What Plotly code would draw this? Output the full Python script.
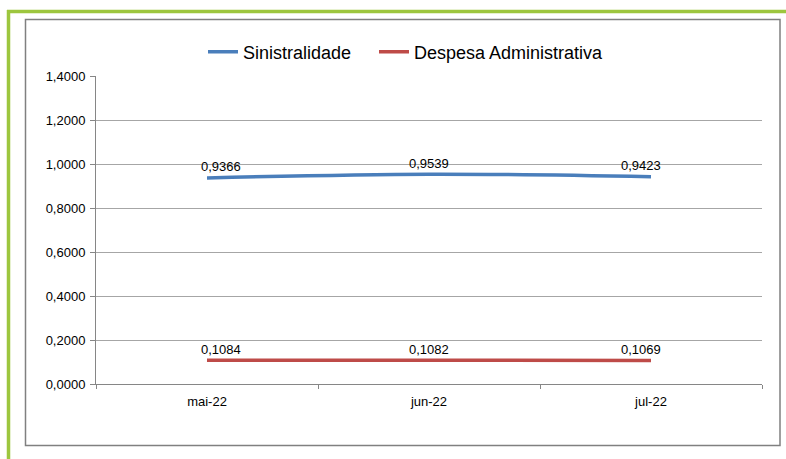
import plotly.graph_objects as go

categories = ["mai-22", "jun-22", "jul-22"]
sinistralidade = [0.9366, 0.9539, 0.9423]
despesa_adm = [0.1084, 0.1082, 0.1069]
y_ticks = [0.0, 0.2, 0.4, 0.6, 0.8, 1.0, 1.2, 1.4]

def fmt(v):
    return f"{v:.4f}".replace(".", ",")

W, H = 786, 459
L, R, T, B = 96, 762, 76, 384

def px(x):
    return (x - L) / (R - L)

def py(y):
    return (B - y) / (B - T)

font = "Liberation Sans, Arial, sans-serif"

fig = go.Figure()
fig.add_trace(go.Scatter(
    x=categories, y=sinistralidade, name="Sinistralidade",
    mode="lines",
    line=dict(color="#4A7EBB", width=3.5, shape="spline"),
    legend="legend",
))
fig.add_trace(go.Scatter(
    x=categories, y=despesa_adm, name="Despesa Administrativa",
    mode="lines",
    line=dict(color="#BE4B48", width=3.5, shape="spline"),
    legend="legend2",
))

# data labels (Excel nudges the end labels inward)
label_xshift = [14, 0, -10]
annotations = []
for series in (sinistralidade, despesa_adm):
    for i, (c, v) in enumerate(zip(categories, series)):
        annotations.append(dict(x=c, y=v, text=fmt(v), showarrow=False,
                                xshift=label_xshift[i], yshift=11, yanchor="middle",
                                font=dict(size=13, family=font, color="#000000")))

shapes = [
    # green frame (left + top)
    dict(type="line", xref="paper", yref="paper", x0=px(8.5), x1=px(8.5), y0=py(10), y1=py(470),
         line=dict(color="#9DC63E", width=3.5)),
    dict(type="line", xref="paper", yref="paper", x0=px(7), x1=px(790), y0=py(11.5), y1=py(11.5),
         line=dict(color="#9DC63E", width=3.5)),
    # gray inner border
    dict(type="rect", xref="paper", yref="paper", x0=px(25.5), x1=px(780), y0=py(19.5), y1=py(445.5),
         line=dict(color="#808080", width=1.5), fillcolor="rgba(0,0,0,0)"),
]

legend_common = dict(orientation="h", xanchor="left", y=py(52), yanchor="middle",
                     font=dict(size=18, family=font, color="#000000"),
                     bgcolor="rgba(0,0,0,0)", itemwidth=30, borderwidth=0)

fig.update_layout(
    width=W, height=H,
    margin=dict(l=L, r=W - R, t=T, b=H - B, pad=0),
    paper_bgcolor="white", plot_bgcolor="white",
    separators=",.",
    font=dict(family=font, size=13, color="#000000"),
    showlegend=True,
    legend=dict(x=px(203), **legend_common),
    legend2=dict(x=px(374), **legend_common),
    shapes=shapes,
    annotations=annotations,
    xaxis=dict(type="category", showgrid=False, showline=True, linecolor="#868686", linewidth=1,
               ticks="outside", tickson="boundaries", ticklen=4, tickcolor="#868686",
               ticklabelstandoff=5,
               tickfont=dict(size=13, family=font), range=[-0.5, 2.5], fixedrange=True),
    yaxis=dict(range=[0, 1.4], tickvals=y_ticks, ticktext=[fmt(v) for v in y_ticks],
               showgrid=True, gridcolor="#A6A6A6", gridwidth=1,
               showline=True, linecolor="#868686", linewidth=1,
               ticks="outside", ticklen=5, tickcolor="#868686",
               ticklabelstandoff=2,
               tickfont=dict(size=13, family=font), zeroline=False, fixedrange=True),
)

fig.write_html("out.html", config={"displayModeBar": False},
               post_script="document.body.style.margin='0';document.body.style.overflow='hidden';")
